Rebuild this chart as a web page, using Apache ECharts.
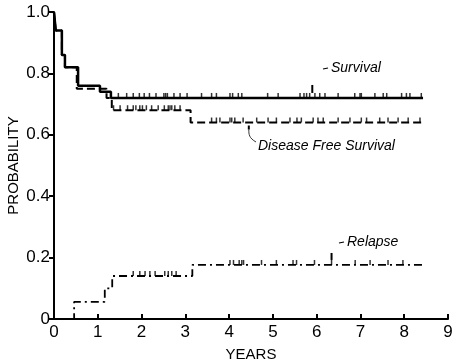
<!DOCTYPE html>
<html>
<head>
<meta charset="utf-8">
<script src="https://cdn.jsdelivr.net/npm/echarts@6/dist/echarts.min.js"></script>
<style>html,body{margin:0;padding:0;background:#fff}#c{width:452px;height:362px}</style>
</head>
<body>
<div id="c"></div>
<script>
// Step points: [years, probability]
var survivalSteps = [[0,1.0],[0.04,0.94],[0.18,0.86],[0.25,0.82],[0.55,0.76],[1.05,0.74],[1.3,0.72],[8.43,0.72]];
var dfsSteps = [[0,1.0],[0.04,0.94],[0.18,0.86],[0.25,0.82],[0.52,0.75],[1.2,0.72],[1.32,0.68],[3.12,0.64],[8.43,0.64]];
var relapseSteps = [[0,0],[0.46,0.056],[1.16,0.10],[1.33,0.14],[3.16,0.176],[8.43,0.176]];
// Censored observation times (years)
var survivalCensor = [1.47,1.66,1.81,1.95,2.06,2.18,2.33,2.51,2.55,2.59,2.74,2.88,3.04,3.37,3.60,3.71,4.02,4.08,4.21,4.29,4.88,5.12,5.62,5.71,5.77,5.84,5.96,6.07,6.19,6.49,6.87,6.99,7.02,7.33,7.52,7.60,7.94,8.05,8.13,8.39];
var dfsCensor = [1.36,1.51,1.68,1.81,1.87,1.96,2.02,2.11,2.23,2.38,2.52,2.61,2.65,2.69,2.76,2.88,3.71,3.60,3.79,4.02,4.06,4.13,4.32,4.63,4.89,5.08,5.39,5.55,5.65,5.92,6.03,6.15,6.49,6.76,7.02,7.14,7.44,7.63,7.86,8.09,8.36];
var relapseCensor = [1.81,1.96,2.08,2.19,2.31,2.53,2.61,2.69,2.79,4.02,4.10,4.23,4.29,4.33,4.74,5.08,5.46,5.54,5.95,6.34,6.88,7.22,7.63,7.97];
var xTicks = [0,1,2,3,4,5,6,7,8,9];
var yTicks = [0,0.2,0.4,0.6,0.8,1.0];
var yTickLabels = {"0":"0","0.2":"0.2","0.4":"0.4","0.6":"0.6","0.8":"0.8","1":"1.0"};

function levelAt(steps, t){var v=steps[0][1];for(var i=0;i<steps.length;i++){if(steps[i][0]<=t)v=steps[i][1];}return v;}
function censorPts(steps, times){return times.map(function(t){return [t, levelAt(steps,t)];});}

var chart = echarts.init(document.getElementById('c'), null, {renderer:'canvas'});
var FONT = 'Liberation Sans';
var tickSym = {type:'scatter', symbol:'rect', symbolSize:[1.5,5], symbolOffset:[0,-2.5], itemStyle:{color:'#000'}, silent:true, z:5};
var option = {
  animation:false,
  backgroundColor:'#fff',
  grid:{left:54,right:4,top:12,bottom:43,containLabel:false,outerBoundsMode:'none'},
  xAxis:{type:'value',min:0,max:9,interval:1,
    axisLine:{lineStyle:{color:'#000',width:2}},
    axisTick:{inside:true,length:5,lineStyle:{color:'#000',width:2}},
    axisLabel:{color:'#000',fontSize:17,fontFamily:FONT,margin:5},
    splitLine:{show:false},
    name:'YEARS',nameLocation:'middle',nameGap:28,nameMoveOverlap:false,
    nameTextStyle:{color:'#000',fontSize:15,fontFamily:FONT}},
  yAxis:{type:'value',min:0,max:1.0,interval:0.2,
    axisLine:{show:true,lineStyle:{color:'#000',width:2}},
    axisTick:{show:true,inside:false,length:5,lineStyle:{color:'#000',width:2}},
    axisLabel:{color:'#000',fontSize:17,fontFamily:FONT,margin:4,
      formatter:function(v){var k=String(Math.round(v*10)/10);return yTickLabels[k]!==undefined?yTickLabels[k]:k;}},
    splitLine:{show:false},
    name:'PROBABILITY',nameLocation:'middle',nameGap:33,nameMoveOverlap:false,
    nameTextStyle:{color:'#000',fontSize:15,fontFamily:FONT}},
  series:[
    {type:'line',step:'end',data:survivalSteps,symbol:'none',lineStyle:{color:'#000',width:2.5,type:'solid'},z:4},
    {type:'line',step:'end',data:dfsSteps,symbol:'none',lineStyle:{color:'#000',width:2,type:[8,4]},z:3},
    {type:'line',step:'end',data:relapseSteps,symbol:'none',lineStyle:{color:'#000',width:1.8,type:[8,4,2,4]},z:3},
    Object.assign({},tickSym,{data:censorPts(survivalSteps,survivalCensor)}),
    Object.assign({},tickSym,{data:censorPts(dfsSteps,dfsCensor)}),
    Object.assign({},tickSym,{data:censorPts(relapseSteps,relapseCensor)})
  ]
};
chart.setOption(option);

function px(x,y){return chart.convertToPixel({gridIndex:0},[x,y]);}
var sv = px(5.9,0.72), rl = px(6.34,0.176), df = px(4.45,0.64);
var itxt = {fill:'#000',font:'italic 14px "Liberation Sans"',textVerticalAlign:'middle'};
chart.setOption({graphic:[
  {type:'text',x:331,y:68,style:Object.assign({text:'Survival'},itxt)},
  {type:'line',shape:{x1:323,y1:69,x2:328,y2:68},style:{stroke:'#000',lineWidth:1.2}},
  {type:'line',shape:{x1:sv[0],y1:sv[1]-13,x2:sv[0],y2:sv[1]-5},style:{stroke:'#000',lineWidth:2}},
  {type:'text',x:258,y:146,style:Object.assign({text:'Disease Free Survival'},itxt)},
  {type:'bezierCurve',shape:{x1:256,y1:142,x2:df[0],y2:df[1]+7,cpx1:249,cpy1:138,cpx2:df[0],cpy2:df[1]+12},style:{stroke:'#000',lineWidth:0.8,fill:null}},
  {type:'line',shape:{x1:df[0],y1:df[1]+3,x2:df[0],y2:df[1]+7},style:{stroke:'#000',lineWidth:2}},
  {type:'text',x:347,y:242,style:Object.assign({text:'Relapse'},itxt)},
  {type:'line',shape:{x1:339,y1:243,x2:344,y2:242},style:{stroke:'#000',lineWidth:1.2}},
  {type:'line',shape:{x1:rl[0],y1:rl[1]-12,x2:rl[0],y2:rl[1]-5},style:{stroke:'#000',lineWidth:2}}
]});
</script>
</body>
</html>
